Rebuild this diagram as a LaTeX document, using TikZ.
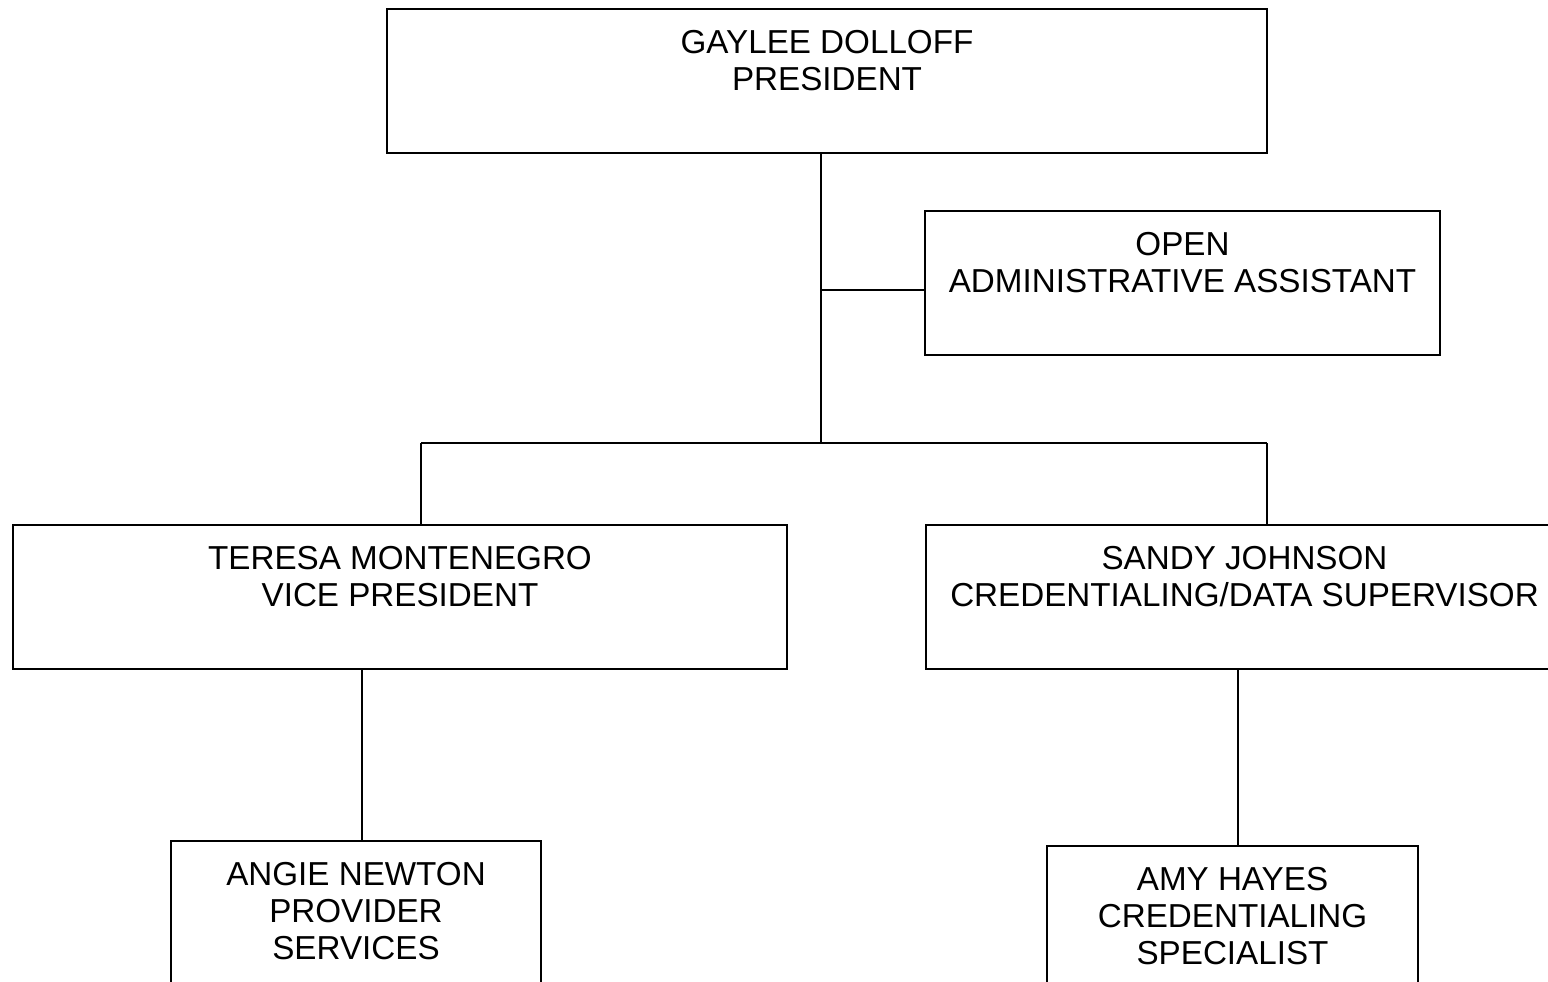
\documentclass[tikz,border=0pt]{standalone}
\usepackage{fontspec}
\setmainfont{Liberation Sans}
\tikzset{
  post/.style={draw, line width=1pt, rectangle, anchor=north, align=center, inner sep=0pt,
    font=\fontsize{16.6}{18.5}\selectfont},
  two/.style={post, text height=40.5pt, text depth=31.5pt},
  three/.style={post, text height=59pt, text depth=45pt},
  link/.style={line width=0.8pt}
}
\begin{document}
\begin{tikzpicture}[x=0.5pt,y=-0.5pt]
\useasboundingbox (0,0) rectangle (1548,981);
\clip (0,0) rectangle (1548,981);
\node [two, minimum width=440pt] (pres) at (827,8) {GAYLEE DOLLOFF\\PRESIDENT};
\node [two, minimum width=257.5pt] (admin) at (1182.5,210) {OPEN\\ADMINISTRATIVE ASSISTANT};
\node [two, minimum width=387pt] (vp) at (400,524) {TERESA MONTENEGRO\\VICE PRESIDENT};
\node [two, minimum width=319pt] (super) at (1244.5,524) {SANDY JOHNSON\\CREDENTIALING/DATA SUPERVISOR};
\node [three, minimum width=185pt] (prov) at (356,840) {ANGIE NEWTON\\PROVIDER\\SERVICES};
\node [three, minimum width=185.5pt] (spec) at (1232.5,845) {AMY HAYES\\CREDENTIALING\\SPECIALIST};
\coordinate (mid) at (821,290);
\coordinate (hub) at (821,443);
\coordinate (tl) at (421,443);
\coordinate (tr) at (1267,443);
\draw [link] (pres.south -| hub) -- (hub);
\draw [link] (mid) -- (admin.west |- mid);
\draw [link] (tl) -- (tr);
\draw [link] (tl) -- (tl |- vp.north);
\draw [link] (tr) -- (tr |- super.north);
\draw [link] ([xshift=3pt]vp.south -| prov.north) -- ([xshift=3pt]prov.north);
\draw [link] ([xshift=2.75pt]super.south -| spec.north) -- ([xshift=2.75pt]spec.north);
\end{tikzpicture}
\end{document}
